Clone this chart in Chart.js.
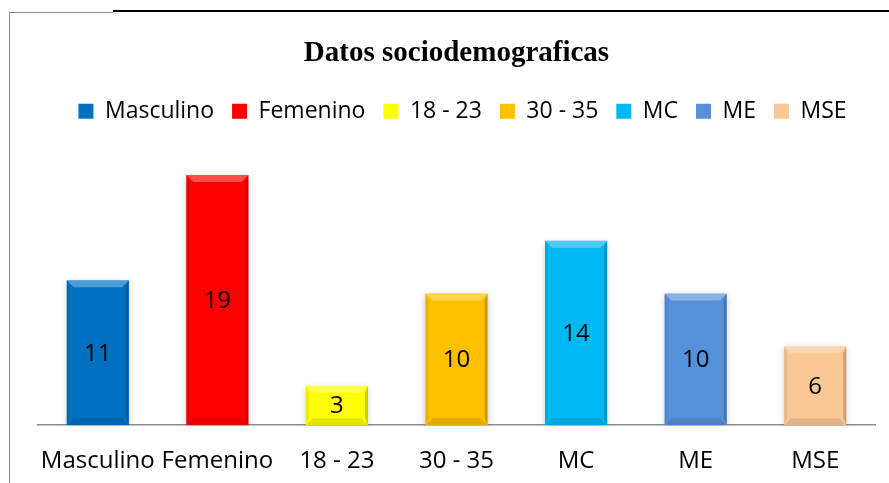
<!DOCTYPE html>
<html>
<head>
<meta charset="utf-8">
<script src="https://cdn.jsdelivr.net/npm/chart.js@4"></script>
<style>
  html, body { margin:0; padding:0; background:#fff; }
  #wrap { position:relative; width:889px; height:483px; overflow:hidden; }
  canvas { position:absolute; left:0; top:0; }
  .ln { position:absolute; }
</style>
</head>
<body>
<div id="wrap">
  <canvas id="c" width="889" height="483"></canvas>
  <div class="ln" style="left:9px;top:12px;width:1px;height:471px;background:#8c8c8c"></div>
  <div class="ln" style="left:9px;top:12px;width:104px;height:1px;background:#8c8c8c"></div>
  <div class="ln" style="left:113px;top:10px;width:776px;height:2px;background:#000"></div>
</div>
<script>
const categories = ['Masculino', 'Femenino', '18 - 23', '30 - 35', 'MC', 'ME', 'MSE'];
const values = [11, 19, 3, 10, 14, 10, 6];
const barColors = ['#0070C0', '#FF0000', '#FFFF00', '#FFC000', '#00B8F2', '#5591DA', '#FAC895'];
const titleText = 'Datos sociodemograficas';

const FONT = '"Open Sans", sans-serif';

const legendShift = {
  id: 'legendShift',
  afterLayout(chart) {
    if (chart.legend) { chart.legend.left += 6; chart.legend.right += 6; }
  }
};

const bevelPlugin = {
  id: 'bevel',
  beforeDatasetDraw(chart) {
    const ctx = chart.ctx;
    ctx.save();
    ctx.shadowColor = 'rgba(0,0,0,0.22)';
    ctx.shadowBlur = 7;
    ctx.shadowOffsetX = 0;
    ctx.shadowOffsetY = 2;
  },
  afterDatasetDraw(chart) {
    const ctx = chart.ctx;
    ctx.restore();
    const meta = chart.getDatasetMeta(0);
    meta.data.forEach((bar) => {
      const p = bar.getProps(['x', 'y', 'base', 'width'], true);
      const l = p.x - p.width / 2, r = p.x + p.width / 2, t = p.y, b = p.base;
      const d = Math.min(7, (b - t) / 3);
      ctx.save();
      ctx.beginPath();
      ctx.moveTo(l, t); ctx.lineTo(r, t); ctx.lineTo(r - d, t + d); ctx.lineTo(l + d, t + d); ctx.closePath();
      ctx.fillStyle = 'rgba(255,255,255,0.3)'; ctx.fill();
      ctx.beginPath();
      ctx.moveTo(l, t); ctx.lineTo(l + 3, t + d); ctx.lineTo(l + 3, b - d); ctx.lineTo(l, b); ctx.closePath();
      ctx.fillStyle = 'rgba(0,0,0,0.08)'; ctx.fill();
      ctx.beginPath();
      ctx.moveTo(r, t); ctx.lineTo(r - 3, t + d); ctx.lineTo(r - 3, b - d); ctx.lineTo(r, b); ctx.closePath();
      ctx.fillStyle = 'rgba(0,0,0,0.2)'; ctx.fill();
      ctx.beginPath();
      ctx.moveTo(l, b); ctx.lineTo(r, b); ctx.lineTo(r - d, b - d); ctx.lineTo(l + d, b - d); ctx.closePath();
      ctx.fillStyle = 'rgba(0,0,0,0.1)'; ctx.fill();
      ctx.restore();
    });
  }
};

const labelPlugin = {
  id: 'valueLabels',
  afterDatasetsDraw(chart) {
    const ctx = chart.ctx;
    const meta = chart.getDatasetMeta(0);
    ctx.save();
    ctx.font = '24px ' + FONT;
    ctx.fillStyle = '#000';
    ctx.textAlign = 'center';
    ctx.textBaseline = 'middle';
    meta.data.forEach((bar, i) => {
      const p = bar.getProps(['x', 'y', 'base'], true);
      ctx.fillText(String(values[i]), p.x, (p.y + p.base) / 2 + 1);
    });
    ctx.restore();
  }
};

new Chart(document.getElementById('c'), {
  type: 'bar',
  data: {
    labels: categories,
    datasets: [{
      data: values,
      backgroundColor: barColors,
      borderWidth: 0,
      categoryPercentage: 0.52,
      barPercentage: 1
    }]
  },
  options: {
    responsive: false,
    animation: false,
    layout: { padding: { left: 38, right: 14, top: 0, bottom: -15 } },
    plugins: {
      tooltip: { enabled: false },
      title: {
        display: true,
        text: titleText,
        color: '#000',
        font: { family: '"Liberation Serif", serif', size: 29, weight: 'bold' },
        padding: { top: 36, bottom: 11 }
      },
      legend: {
        display: true,
        position: 'top',
        onClick: null,
        labels: {
          color: '#000',
          font: { family: FONT, size: 23 },
          boxWidth: 15,
          boxHeight: 15,
          padding: 18,
          generateLabels: () => categories.map((c, i) => ({
            text: c,
            fillStyle: barColors[i],
            strokeStyle: barColors[i],
            lineWidth: 0,
            hidden: false,
            index: i
          }))
        }
      }
    },
    scales: {
      x: {
        grid: { display: true, drawOnChartArea: false, drawTicks: false },
        border: { display: true, color: '#8c8c8c', width: 1.5 },
        ticks: { color: '#000', font: { family: FONT, size: 24 }, padding: 22, maxRotation: 0, autoSkip: false }
      },
      y: {
        display: false,
        min: 0,
        max: 22.2
      }
    }
  },
  plugins: [legendShift, bevelPlugin, labelPlugin]
});
</script>
</body>
</html>
